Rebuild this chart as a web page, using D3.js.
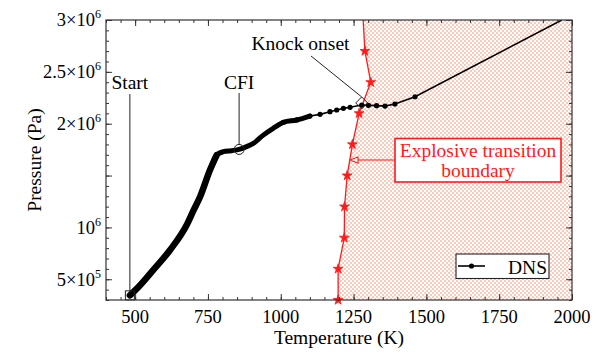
<!DOCTYPE html>
<html><head><meta charset="utf-8">
<script src="https://cdn.jsdelivr.net/npm/d3@7"></script>
<style>body{margin:0;background:#fff} svg,text{font-family:"Liberation Serif","Times New Roman",serif}</style>
</head><body><svg id="c" width="600" height="357" font-family="Liberation Serif, serif"></svg>
<script>
// DNS trajectory (Temperature K, Pressure Pa)
const dnsT = [482, 517, 562, 620, 677, 700, 723, 757, 780, 803, 830, 857, 877, 906, 940, 974, 1009, 1055, 1100, 1135, 1169, 1192, 1215, 1238, 1278, 1301, 1329, 1358, 1392, 1461, 1965];
const dnsP = [3.45e5, 4.43e5, 5.89e5, 7.82e5, 1.023e6, 1.161e6, 1.296e6, 1.554e6, 1.698e6, 1.730e6, 1.740e6, 1.752e6, 1.772e6, 1.81e6, 1.89e6, 1.956e6, 2.013e6, 2.036e6, 2.074e6, 2.09e6, 2.116e6, 2.132e6, 2.148e6, 2.158e6, 2.18e6, 2.177e6, 2.174e6, 2.17e6, 2.19e6, 2.26e6, 3.0e6];
// Explosive transition boundary
const boundT = [1197, 1197, 1218, 1219, 1228, 1246, 1269, 1309, 1289, 1277];
const boundP = [3e5, 6e5, 9e5, 1.2e6, 1.5e6, 1.8e6, 2.1e6, 2.4e6, 2.7e6, 3.3e6];
// Axis ticks
const xTicks = [500, 750, 1000, 1250, 1500, 1750, 2000];
const yTicks = [5e5, 1e6, 1.5e6, 2e6, 2.5e6, 3e6];
const yTickBase = ["5×10", "10", "", "2×10", "2.5×10", "3×10"];
const yTickExp = ["5", "6", "", "6", "6", "6"];
// Annotated events
const startPt = [482, 3.45e5];
const cfiPt = [857, 1.752e6];
const knockPt = [1278, 2.2e6];

const svg = d3.select("#c");
const L = 106, R = 572, T = 20, B = 300;
const x = d3.scaleLinear().domain([400, 2000]).range([L, R]);
const y = d3.scaleLinear().domain([3e5, 3e6]).range([B, T]);

const defs = svg.append("defs");
const pat = defs.append("pattern").attr("id", "chk").attr("patternUnits", "userSpaceOnUse")
  .attr("width", 4).attr("height", 4);
pat.append("rect").attr("width", 4).attr("height", 4).attr("fill", "#fff");
pat.append("rect").attr("x", 0).attr("y", 0).attr("width", 2).attr("height", 2).attr("fill", "#fbcabb");
pat.append("rect").attr("x", 2).attr("y", 2).attr("width", 2).attr("height", 2).attr("fill", "#fbcabb");
defs.append("clipPath").attr("id", "clip").append("rect")
  .attr("x", L).attr("y", T).attr("width", R - L).attr("height", B - T);

const plot = svg.append("g").attr("clip-path", "url(#clip)");

// shaded region right of boundary
const bpts = boundT.map((t, i) => [x(t), y(boundP[i])]);
const poly = bpts.concat([[x(2100), y(3.3e6)], [x(2100), y(3e5)]]);
plot.append("path").attr("d", "M" + poly.map(p => p.join(",")).join("L") + "Z")
  .attr("fill", "url(#chk)");

// boundary line
const red = "#ff1a1a";
plot.append("path").attr("d", d3.line()(bpts)).attr("fill", "none")
  .attr("stroke", red).attr("stroke-width", 1.3);
const star = d3.symbol().type(d3.symbolStar).size(30);
svg.append("g").selectAll("path").data(boundT.map((t, i) => [t, boundP[i]]).filter(d => d[1] <= 3e6))
  .join("path").attr("d", star)
  .attr("transform", d => `translate(${x(d[0])},${y(d[1])})`)
  .attr("fill", red).attr("stroke", red).attr("stroke-width", 0.8);

// DNS
const dns = dnsT.map((t, i) => [t, dnsP[i]]);
const lineS = d3.line().x(d => x(d[0])).y(d => y(d[1])).curve(d3.curveMonotoneX);
const lineL = d3.line().x(d => x(d[0])).y(d => y(d[1]));
plot.append("path").attr("d", lineL(dns)).attr("fill", "none").attr("stroke", "#000").attr("stroke-width", 1.6);
plot.append("path").attr("d", lineS(dns.filter(d => d[0] <= 1100))).attr("fill", "none")
  .attr("stroke", "#000").attr("stroke-width", 5).attr("stroke-linejoin", "round").attr("stroke-linecap", "round");
plot.append("path").attr("d", lineS(dns.filter(d => d[0] <= 790))).attr("fill", "none")
  .attr("stroke", "#000").attr("stroke-width", 6.5).attr("stroke-linejoin", "round").attr("stroke-linecap", "round");
plot.append("g").selectAll("circle").data(dns.filter(d => d[0] >= 1000 && d[0] < 1900)).join("circle")
  .attr("cx", d => x(d[0])).attr("cy", d => y(d[1])).attr("r", 2.6).attr("fill", "#000");

// annotations
const ann = svg.append("g").attr("fill", "none").attr("stroke", "#222").attr("stroke-width", 1);
const sx = x(startPt[0]), sy = y(startPt[1]);
ann.append("rect").attr("x", sx - 4.5).attr("y", sy - 4.5).attr("width", 9).attr("height", 9);
ann.append("line").attr("x1", sx).attr("x2", sx).attr("y1", 94).attr("y2", sy - 4.5);
const cx = x(cfiPt[0]), cy = y(cfiPt[1]);
ann.append("circle").attr("cx", cx).attr("cy", cy).attr("r", 5);
ann.append("line").attr("x1", cx).attr("x2", cx).attr("y1", 93).attr("y2", cy - 5);
const kx = x(knockPt[0]), ky = y(knockPt[1]);
ann.append("path").attr("d", `M${kx},${ky - 6}L${kx + 6},${ky}L${kx},${ky + 6}L${kx - 6},${ky}Z`);
ann.append("line").attr("x1", 311).attr("y1", 56).attr("x2", kx).attr("y2", ky - 6);

const txt = (tx, ty, s, size, anchor, col) => svg.append("text").attr("x", tx).attr("y", ty)
  .attr("font-size", size).attr("text-anchor", anchor || "middle").attr("fill", col || "#000").text(s);
txt(sx, 89, "Start", 19.5);
txt(cx, 89, "CFI", 19.5);
txt(300.5, 50, "Knock onset", 19.5);

// boundary label box
svg.append("rect").attr("x", 395).attr("y", 138.5).attr("width", 166).attr("height", 43.5)
  .attr("fill", "#fff").attr("stroke", red).attr("stroke-width", 1.6);
txt(478, 156.5, "Explosive transition", 19.5, "middle", red);
txt(478, 177, "boundary", 19.5, "middle", red);
svg.append("line").attr("x1", 395).attr("y1", 160).attr("x2", 358).attr("y2", 160).attr("stroke", red).attr("stroke-width", 1.2);
svg.append("path").attr("d", "M350,160L358,157L358,163Z").attr("fill", "#fff").attr("stroke", red).attr("stroke-width", 1.1);

// axes (ticks inward)
const ax = svg.append("g");
const minorX = d3.range(400, 2001, 50), minorY = d3.range(3e5, 3.0001e6, 1e5);
ax.append("g").attr("transform", `translate(0,${B})`).call(d3.axisBottom(x).tickValues(minorX).tickSize(-3).tickFormat(""));
ax.append("g").attr("transform", `translate(0,${B})`).call(d3.axisBottom(x).tickValues(xTicks).tickSize(-6).tickFormat(""));
ax.append("g").attr("transform", `translate(0,${T})`).call(d3.axisTop(x).tickValues(minorX).tickSize(-3).tickFormat(""));
ax.append("g").attr("transform", `translate(0,${T})`).call(d3.axisTop(x).tickValues(xTicks).tickSize(-6).tickFormat(""));
ax.append("g").attr("transform", `translate(${L},0)`).call(d3.axisLeft(y).tickValues(minorY).tickSize(-3).tickFormat(""));
ax.append("g").attr("transform", `translate(${L},0)`).call(d3.axisLeft(y).tickValues(yTicks).tickSize(-6).tickFormat(""));
ax.append("g").attr("transform", `translate(${R},0)`).call(d3.axisRight(y).tickValues(minorY).tickSize(-3).tickFormat(""));
ax.append("g").attr("transform", `translate(${R},0)`).call(d3.axisRight(y).tickValues(yTicks).tickSize(-6).tickFormat(""));
ax.selectAll(".domain").remove();
ax.selectAll(".tick line").attr("stroke", "#333").attr("stroke-width", 1);
svg.append("rect").attr("x", L).attr("y", T).attr("width", R - L).attr("height", B - T)
  .attr("fill", "none").attr("stroke", "#333").attr("stroke-width", 1.2);

// tick labels
svg.append("g").selectAll("text").data(xTicks).join("text")
  .attr("x", d => x(d)).attr("y", 323).attr("text-anchor", "middle").attr("font-size", 18.5).text(d => d);
const yl = svg.append("g").selectAll("text").data(yTicks.map((v, i) => i).filter(i => yTickBase[i] !== "")).join("text")
  .attr("x", 101).attr("y", i => y(yTicks[i]) + 6.3).attr("text-anchor", "end").attr("font-size", 18.5);
yl.append("tspan").text(i => yTickBase[i]);
yl.append("tspan").attr("font-size", 12).attr("dy", -8).text(i => yTickExp[i]);

// axis titles
txt(339, 344, "Temperature (K)", 19.5);
svg.append("text").attr("transform", "translate(41,160) rotate(-90)").attr("text-anchor", "middle")
  .attr("font-size", 19.5).text("Pressure (Pa)");

// legend
const lg = svg.append("g");
lg.append("rect").attr("x", 456).attr("y", 254).attr("width", 93).attr("height", 24.5)
  .attr("fill", "#fff").attr("stroke", "#222").attr("stroke-width", 1.1);
lg.append("line").attr("x1", 458).attr("x2", 485).attr("y1", 266).attr("y2", 266).attr("stroke", "#000").attr("stroke-width", 1.6);
lg.append("circle").attr("cx", 471.5).attr("cy", 266).attr("r", 2.6).attr("fill", "#000");
lg.append("text").attr("x", 508).attr("y", 273.5).attr("font-size", 19.5).text("DNS");
</script></body></html>
